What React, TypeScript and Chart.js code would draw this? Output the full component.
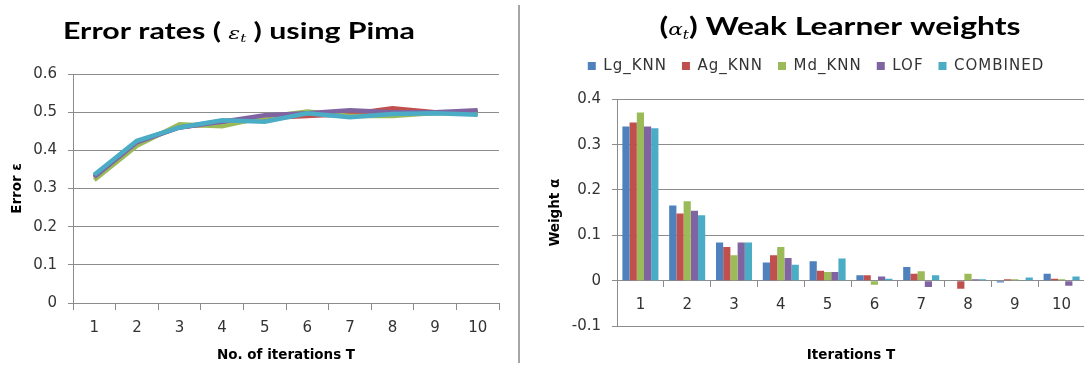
import React, { useEffect, useRef } from "react";
import { Chart, registerables } from "chart.js";

Chart.register(...registerables);

// ---------- data ----------
const iterations = ["1", "2", "3", "4", "5", "6", "7", "8", "9", "10"];
const learnerNames = ["Lg_KNN", "Ag_KNN", "Md_KNN", "LOF", "COMBINED"];
const learnerColors = ["#4F81BD", "#C0504D", "#9BBB59", "#8064A2", "#4BACC6"];

const errorLgKnn = [0.333, 0.423, 0.46, 0.477, 0.48, 0.495, 0.49, 0.498, 0.498, 0.498];
const errorAgKnn = [0.328, 0.42, 0.462, 0.47, 0.485, 0.49, 0.495, 0.51, 0.5, 0.5];
const errorMdKnn = [0.322, 0.412, 0.468, 0.463, 0.487, 0.502, 0.49, 0.49, 0.498, 0.498];
const errorLof = [0.33, 0.421, 0.46, 0.475, 0.492, 0.497, 0.505, 0.5, 0.5, 0.505];
const errorCombined = [0.336, 0.425, 0.46, 0.479, 0.475, 0.497, 0.487, 0.495, 0.497, 0.493];

const weightLgKnn = [0.34, 0.166, 0.084, 0.04, 0.043, 0.012, 0.03, 0, -0.004, 0.015];
const weightAgKnn = [0.349, 0.148, 0.074, 0.056, 0.022, 0.012, 0.015, -0.018, 0.003, 0.004];
const weightMdKnn = [0.371, 0.175, 0.056, 0.074, 0.019, -0.009, 0.021, 0.015, 0.003, 0.003];
const weightLof = [0.34, 0.154, 0.084, 0.05, 0.019, 0.009, -0.014, 0.003, 0, -0.011];
const weightCombined = [0.336, 0.144, 0.084, 0.035, 0.049, 0.004, 0.012, 0.003, 0.007, 0.009];

const errorTicks = [0, 0.1, 0.2, 0.3, 0.4, 0.5, 0.6];
const weightTicks = [-0.1, 0, 0.1, 0.2, 0.3, 0.4];

const errorSeries = [errorLgKnn, errorAgKnn, errorMdKnn, errorLof, errorCombined];
const weightSeries = [weightLgKnn, weightAgKnn, weightMdKnn, weightLof, weightCombined];

// ---------- styles ----------
const GRID = "#8C8C8C";
const TICK_COLOR = "#333333";
const TICK_FONT = { family: "'DejaVu Sans'", size: 15 };
const AXIS_TITLE_FONT = { family: "'DejaVu Sans'", size: 13.5, weight: "bold" as const };
const TITLE_FAMILY = "Lato";
const MATH_FAMILY = "'DejaVu Serif'";

type Part = { text: string; font: string; dy?: number };

// Title drawn in parts (math italic symbol + subscript), stretched horizontally to the reference width
function makeTitlePlugin(id: string, parts: Part[], cx: number, baseline: number, targetWidth: number) {
  return {
    id,
    afterDraw(chart: any) {
      const ctx: any = chart.ctx;
      ctx.save();
      ctx.fillStyle = "#000";
      ctx.textBaseline = "alphabetic";
      ctx.textAlign = "left";
      const widths = parts.map((p) => {
        ctx.font = p.font;
        return ctx.measureText(p.text).width;
      });
      const total = widths.reduce((a: number, b: number) => a + b, 0);
      const sx = targetWidth / total;
      ctx.translate(cx, baseline);
      ctx.scale(sx, 1);
      let x = -total / 2;
      parts.forEach((p, i) => {
        ctx.font = p.font;
        ctx.fillText(p.text, x, p.dy || 0);
        x += widths[i];
      });
      ctx.restore();
    },
  };
}

function makeLegendPatch(spacing: string, height: number, dx: number) {
  return {
    id: "legendPatch",
    beforeUpdate(chart: any) {
      const lg = chart.legend;
      if (!lg || lg.__patched) return;
      lg.__patched = true;
      const origFit = lg.fit.bind(lg);
      const origDraw = lg.draw.bind(lg);
      lg.fit = function () {
        const ctx: any = chart.ctx;
        const prev = ctx.letterSpacing;
        if ("letterSpacing" in ctx) ctx.letterSpacing = spacing;
        origFit();
        if ("letterSpacing" in ctx) ctx.letterSpacing = prev;
        lg.height = height;
      };
      lg.draw = function () {
        const ctx: any = chart.ctx;
        ctx.save();
        if ("letterSpacing" in ctx) ctx.letterSpacing = spacing;
        ctx.translate(dx, 0);
        origDraw();
        ctx.restore();
      };
    },
  };
}

export default function App() {
  const leftRef = useRef<HTMLCanvasElement>(null);
  const rightRef = useRef<HTMLCanvasElement>(null);

  useEffect(() => {
    const leftTitle = makeTitlePlugin(
      "leftTitle",
      [
        { text: "Error rates ( ", font: `bold 22px ${TITLE_FAMILY}` },
        { text: "ε", font: `italic 16px ${MATH_FAMILY}` },
        { text: "t", font: `italic 11px ${MATH_FAMILY}`, dy: 3 },
        { text: " ) using Pima", font: `bold 22px ${TITLE_FAMILY}` },
      ],
      239,
      39,
      352
    );
    const rightTitle = makeTitlePlugin(
      "rightTitle",
      [
        { text: "(", font: `bold 25px ${TITLE_FAMILY}` },
        { text: "α", font: `italic 17px ${MATH_FAMILY}` },
        { text: "t", font: `italic 12px ${MATH_FAMILY}`, dy: 4 },
        { text: ") Weak Learner weights", font: `bold 25px ${TITLE_FAMILY}` },
      ],
      319,
      35,
      361
    );

    const left = new Chart(leftRef.current!, {
      type: "line",
      data: {
        labels: iterations,
        datasets: learnerNames.map((name, i) => ({
          label: name,
          data: errorSeries[i],
          borderColor: learnerColors[i],
          backgroundColor: learnerColors[i],
          borderWidth: 4.5,
          pointRadius: 0,
          tension: 0,
          fill: false,
          order: learnerNames.length - 1 - i,
        })),
      },
      options: {
        animation: false,
        responsive: true,
        maintainAspectRatio: false,
        layout: { padding: { top: 74, right: 20, bottom: 0, left: 0 } },
        plugins: { legend: { display: false }, tooltip: { enabled: false } },
        scales: {
          x: {
            offset: true,
            grid: { offset: true, drawOnChartArea: false, drawTicks: true, tickLength: 7, color: GRID },
            border: { display: true, color: GRID },
            ticks: { font: TICK_FONT, color: TICK_COLOR, padding: 9, maxRotation: 0, autoSkip: false },
            title: {
              display: true,
              text: "No. of iterations T",
              font: AXIS_TITLE_FONT,
              color: "#000",
              padding: { top: 0, bottom: 1 },
            },
            afterFit: (s: any) => {
              s.height = 62;
            },
          },
          y: {
            min: 0,
            max: 0.6,
            afterBuildTicks: (s: any) => {
              s.ticks = errorTicks.map((v) => ({ value: v }));
            },
            ticks: { font: TICK_FONT, color: TICK_COLOR, padding: 11, callback: (v: any) => String(v) },
            grid: { color: GRID, tickLength: 5 },
            border: { display: true, color: GRID },
            title: {
              display: true,
              text: "Error ε",
              font: AXIS_TITLE_FONT,
              color: "#000",
              padding: { top: 9, bottom: 0 },
            },
            afterFit: (s: any) => {
              s.width = 73;
            },
          },
        },
      },
      plugins: [leftTitle],
    } as any);

    const right = new Chart(rightRef.current!, {
      type: "bar",
      data: {
        labels: iterations,
        datasets: learnerNames.map((name, i) => ({
          label: name,
          data: weightSeries[i],
          backgroundColor: learnerColors[i],
          borderWidth: 0,
          categoryPercentage: 0.77,
          barPercentage: 1.0,
        })),
      },
      options: {
        animation: false,
        responsive: true,
        maintainAspectRatio: false,
        layout: { padding: { top: 43.5, right: 1, bottom: 39, left: 0 } },
        plugins: {
          tooltip: { enabled: false },
          legend: {
            display: true,
            position: "top",
            labels: {
              boxWidth: 8,
              boxHeight: 8,
              padding: 15,
              color: "#333",
              font: { family: "'DejaVu Sans'", size: 15 },
            },
          },
        },
        scales: {
          x: {
            position: { y: 0 },
            offset: true,
            grid: { offset: true, drawOnChartArea: false, drawTicks: true, tickLength: 6, color: GRID },
            border: { display: true, color: GRID },
            ticks: { font: TICK_FONT, color: TICK_COLOR, padding: 9, maxRotation: 0, autoSkip: false },
            title: {
              display: true,
              text: "Iterations T",
              font: AXIS_TITLE_FONT,
              color: "#000",
              padding: { top: 0, bottom: 0 },
            },
            afterFit: (s: any) => {
              s.height = 83;
            },
          },
          y: {
            min: -0.1,
            max: 0.4,
            afterBuildTicks: (s: any) => {
              s.ticks = weightTicks.map((v) => ({ value: v }));
            },
            ticks: { font: TICK_FONT, color: TICK_COLOR, padding: 11, callback: (v: any) => String(v) },
            grid: { color: GRID, tickLength: 5 },
            border: { display: true, color: GRID },
            title: {
              display: true,
              text: "Weight α",
              font: AXIS_TITLE_FONT,
              color: "#000",
              padding: { top: 26, bottom: 0 },
            },
            afterFit: (s: any) => {
              s.width = 96;
            },
          },
        },
      },
      plugins: [rightTitle, makeLegendPatch("1px", 55.8, 13)],
    } as any);

    return () => {
      left.destroy();
      right.destroy();
    };
  }, []);

  return (
    <div
      style={{
        position: "absolute",
        left: 0,
        top: 0,
        width: 1084,
        height: 365,
        background: "#fff",
        overflow: "hidden",
      }}
    >
      <div style={{ position: "absolute", left: 0, top: 0, width: 519, height: 365 }}>
        <canvas ref={leftRef} />
      </div>
      <div style={{ position: "absolute", left: 518, top: 5, width: 2, height: 358, background: "#A6A6A6" }} />
      <div style={{ position: "absolute", left: 521, top: 0, width: 565, height: 365 }}>
        <canvas ref={rightRef} />
      </div>
    </div>
  );
}
